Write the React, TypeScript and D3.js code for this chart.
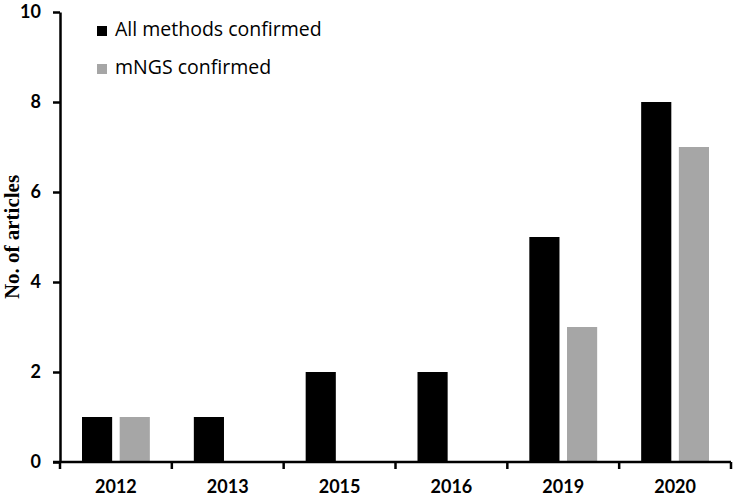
import * as d3 from "d3";
import { useRef, useEffect } from "react";

const years = ["2012", "2013", "2015", "2016", "2019", "2020"];
const allMethods = [1, 1, 2, 2, 5, 8];
const mngs = [1, 0, 0, 0, 3, 7];
const seriesNames = ["All methods confirmed", "mNGS confirmed"];
const seriesColors = ["#000000", "#a6a6a6"];
const yTicks = [0, 2, 4, 6, 8, 10];

function App() {
  const svgRef = useRef<SVGSVGElement>(null);

  useEffect(() => {
    const WIDTH = 735;
    const HEIGHT = 497;
    const left = 60;
    const right = 731;
    const top = 12;
    const bottom = 462;

    const svg = d3.select(svgRef.current);
    svg.selectAll("*").remove();
    svg.attr("width", WIDTH).attr("height", HEIGHT);

    const x = d3.scaleBand().domain(years).range([left, right]).padding(0);
    const inner = d3.scaleBand().domain(["0", "1"]).range([22, x.bandwidth() - 22]).paddingInner(0.2);
    const y = d3.scaleLinear().domain([0, 10]).range([bottom, top]);

    const data = years.map((yr, i) => ({ year: yr, values: [allMethods[i], mngs[i]] }));

    const groups = svg.append("g").selectAll("g")
      .data(data)
      .join("g")
      .attr("transform", (d) => `translate(${x(d.year)},0)`);

    groups.selectAll("rect")
      .data((d) => d.values.map((v, k) => ({ v, k })).filter((e) => e.v > 0))
      .join("rect")
      .attr("x", (e) => inner(String(e.k))!)
      .attr("width", inner.bandwidth())
      .attr("y", (e) => y(e.v))
      .attr("height", (e) => y(0) - y(e.v))
      .attr("fill", (e) => seriesColors[e.k]);

    // y axis
    const yAxis = svg.append("g")
      .attr("transform", `translate(${left},0)`)
      .call(d3.axisLeft(y).tickValues(yTicks).tickSize(7).tickSizeOuter(0).tickPadding(12));
    yAxis.select(".domain").attr("stroke-width", 2.5);
    yAxis.selectAll(".tick line").attr("stroke-width", 2.5);
    yAxis.selectAll(".tick text")
      .attr("font-family", "Lato, sans-serif")
      .attr("font-weight", "bold")
      .attr("font-size", 18)
      .attr("fill", "#000");

    // x axis
    const xAxis = svg.append("g").attr("transform", `translate(0,${bottom})`);
    xAxis.append("line")
      .attr("x1", left - 7).attr("x2", right)
      .attr("stroke", "#000").attr("stroke-width", 2.5);
    const bounds = years.map((yr) => x(yr)!).concat([right]);
    xAxis.selectAll("line.tk")
      .data(bounds)
      .join("line")
      .attr("class", "tk")
      .attr("x1", (d) => d).attr("x2", (d) => d)
      .attr("y1", 0).attr("y2", 7)
      .attr("stroke", "#000").attr("stroke-width", 2.5);
    xAxis.selectAll("text")
      .data(years)
      .join("text")
      .attr("x", (d) => x(d)! + x.bandwidth() / 2)
      .attr("y", 31)
      .attr("text-anchor", "middle")
      .attr("font-family", "Lato, sans-serif")
      .attr("font-weight", "bold")
      .attr("font-size", 18)
      .text((d) => d);

    // y axis title
    svg.append("text")
      .attr("transform", `translate(19,${(top + bottom) / 2}) rotate(-90)`)
      .attr("text-anchor", "middle")
      .attr("font-family", "'Liberation Serif', serif")
      .attr("font-weight", "bold")
      .attr("font-size", 21)
      .text("No. of articles");

    // legend
    const legend = svg.append("g").selectAll("g")
      .data(seriesNames)
      .join("g")
      .attr("transform", (d, i) => `translate(97,${26 + i * 38})`);
    legend.append("rect")
      .attr("width", 10).attr("height", 10)
      .attr("fill", (d, i) => seriesColors[i]);
    legend.append("text")
      .attr("x", 18).attr("y", 10)
      .attr("font-family", "'Open Sans', sans-serif")
      .attr("font-size", 19.5)
      .text((d) => d);
  }, []);

  return (
    <div id="chartArea" style={{ position: "absolute", left: 0, top: 0 }}>
      <svg ref={svgRef} style={{ display: "block" }} />
    </div>
  );
}

export default App;
